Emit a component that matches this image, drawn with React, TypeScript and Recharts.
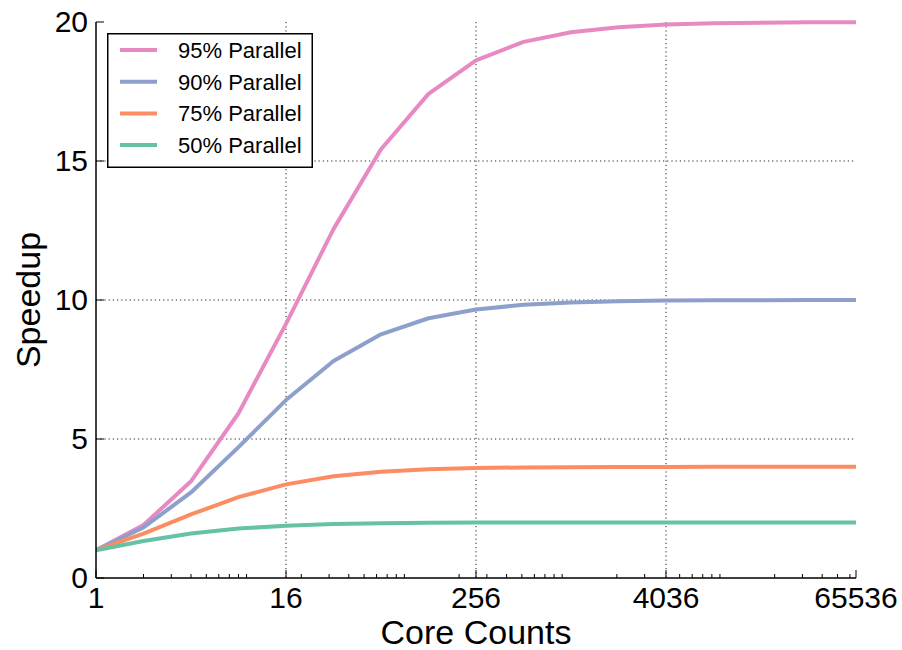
import React from "react";
import { LineChart, Line, XAxis, YAxis, CartesianGrid, Legend } from "recharts";

const coreCounts = [1, 2, 4, 8, 16, 32, 64, 128, 256, 512, 1024, 2048, 4096, 8192, 16384, 32768, 65536];
const parallel95 = [1, 1.905, 3.478, 5.926, 9.143, 12.549, 15.422, 17.415, 18.618, 19.284, 19.633, 19.814, 19.906, 19.953, 19.977, 19.988, 19.994];
const parallel90 = [1, 1.818, 3.077, 4.706, 6.4, 7.805, 8.767, 9.343, 9.66, 9.827, 9.913, 9.956, 9.978, 9.989, 9.995, 9.997, 9.999];
const parallel75 = [1, 1.6, 2.286, 2.909, 3.368, 3.657, 3.821, 3.908, 3.954, 3.977, 3.988, 3.994, 3.997, 3.999, 3.999, 4.0, 4.0];
const parallel50 = [1, 1.333, 1.6, 1.778, 1.882, 1.939, 1.969, 1.984, 1.992, 1.996, 1.998, 1.999, 2.0, 2.0, 2.0, 2.0, 2.0];

const seriesNames = ["95% Parallel", "90% Parallel", "75% Parallel", "50% Parallel"];
const seriesColors = ["#e78ac3", "#8da0cb", "#fc8d62", "#66c2a5"];

const majorXTicks = [1, 16, 256, 4096, 65536];
const majorXTickLabels = ["1", "16", "256", "4036", "65536"];
const minorXTicks = [
  2, 3, 4, 5, 6, 7, 8, 9,
  20, 30, 40, 50, 60, 70, 80, 90,
  200, 300, 400, 500, 600, 700, 800, 900,
  2000, 3000, 5000, 6000, 7000, 8000, 9000,
  20000, 30000, 40000, 50000, 60000,
];
const yTicks = [0, 5, 10, 15, 20];
const gridX = [16, 256, 4096];
const gridY = [5, 10, 15];

const data = coreCounts.map((c, i) => ({
  cores: c,
  p95: parallel95[i],
  p90: parallel90[i],
  p75: parallel75[i],
  p50: parallel50[i],
}));
const seriesKeys = ["p95", "p90", "p75", "p50"];

const FONT = "'Liberation Sans', Arial, Helvetica, sans-serif";
const allXTicks = [...majorXTicks, ...minorXTicks].sort((a, b) => a - b);

const BottomTick = (props: any) => {
  const { x, y, payload } = props;
  const idx = majorXTicks.indexOf(payload.value);
  const major = idx >= 0;
  return (
    <g>
      <line x1={x} y1={y} x2={x} y2={y - (major ? 8 : 4)} stroke="#000" strokeWidth={1} />
      {major && (
        <text x={x} y={y + 30} textAnchor="middle" fontSize={30} fontFamily={FONT} fill="#000">
          {majorXTickLabels[idx]}
        </text>
      )}
    </g>
  );
};

const TopTick = (props: any) => {
  const { x, y, payload } = props;
  const major = majorXTicks.indexOf(payload.value) >= 0;
  return <line x1={x} y1={y} x2={x} y2={y + (major ? 8 : 4)} stroke="#000" strokeWidth={1} />;
};

const LeftTick = (props: any) => {
  const { x, y, payload } = props;
  return (
    <g>
      <line x1={x} y1={y} x2={x + 8} y2={y} stroke="#000" strokeWidth={1} />
      <text x={x - 8} y={y + 10} textAnchor="end" fontSize={30} fontFamily={FONT} fill="#000">
        {payload.value}
      </text>
    </g>
  );
};

const RightTick = (props: any) => {
  const { x, y } = props;
  return <line x1={x} y1={y} x2={x - 8} y2={y} stroke="#000" strokeWidth={1} />;
};

const LegendBox = (props: any) => {
  const payload = [...(props.payload || [])].sort(
    (a: any, b: any) => seriesNames.indexOf(a.value) - seriesNames.indexOf(b.value)
  );
  return (
    <svg width={206} height={135} style={{ display: "block" }}>
      <rect x={0.75} y={0.75} width={204.5} height={133.5} fill="#fff" stroke="#000" strokeWidth={1.5} />
      {payload.map((p: any, i: number) => {
        const cy = 17 + i * 31.7;
        return (
          <g key={i}>
            <line x1={13} y1={cy} x2={50} y2={cy} stroke={p.color} strokeWidth={4} />
            <text x={71} y={cy + 8} fontSize={22} fontFamily={FONT} fill="#000">
              {p.value}
            </text>
          </g>
        );
      })}
    </svg>
  );
};

const XLabel = (props: any) => {
  const vb = props.viewBox || { x: 0, y: 0, width: 0, height: 0 };
  return (
    <text x={vb.x + vb.width / 2} y={vb.y + 66} textAnchor="middle" fontSize={34} fontFamily={FONT} fill="#000">
      Core Counts
    </text>
  );
};

const YLabel = (props: any) => {
  const vb = props.viewBox || { x: 0, y: 0, width: 0, height: 0 };
  const cx = vb.x + vb.width - 56;
  const cy = vb.y + vb.height / 2;
  return (
    <text
      x={cx}
      y={cy}
      transform={`rotate(-90, ${cx}, ${cy})`}
      textAnchor="middle"
      fontSize={34}
      fontFamily={FONT}
      fill="#000"
    >
      Speedup
    </text>
  );
};

export default function App() {
  return (
    <div style={{ width: 902, height: 650, background: "#fff" }}>
      <style>{"html, body { margin: 0; padding: 0; background: #fff; }"}</style>
      <LineChart
        width={902}
        height={650}
        data={data}
        margin={{ top: 22, right: 46, bottom: 14, left: 36 }}
      >
        <CartesianGrid
          stroke="#222"
          strokeWidth={1}
          strokeDasharray="1.2 3"
          verticalValues={gridX}
          horizontalValues={gridY}
        />
        <XAxis
          dataKey="cores"
          type="number"
          scale="log"
          domain={[1, 65536]}
          allowDataOverflow
          ticks={allXTicks}
          interval={0}
          tick={BottomTick}
          tickLine={false}
          tickSize={0}
          tickMargin={0}
          height={58}
          axisLine={{ stroke: "#000", strokeWidth: 1.5 }}
          label={XLabel}
        />
        <XAxis
          xAxisId="top"
          orientation="top"
          dataKey="cores"
          type="number"
          scale="log"
          domain={[1, 65536]}
          allowDataOverflow
          ticks={allXTicks}
          interval={0}
          tick={TopTick}
          tickLine={false}
          tickSize={0}
          tickMargin={0}
          height={0}
          axisLine={{ stroke: "#000", strokeWidth: 1.5 }}
        />
        <YAxis
          type="number"
          domain={[0, 20]}
          ticks={yTicks}
          interval={0}
          tick={LeftTick}
          tickLine={false}
          tickSize={0}
          tickMargin={0}
          width={60}
          axisLine={{ stroke: "#000", strokeWidth: 1.5 }}
          label={YLabel}
        />
        <YAxis
          yAxisId="right"
          orientation="right"
          type="number"
          domain={[0, 20]}
          ticks={yTicks}
          interval={0}
          tick={RightTick}
          tickLine={false}
          tickSize={0}
          tickMargin={0}
          width={0}
          axisLine={{ stroke: "#000", strokeWidth: 1.5 }}
        />
        {seriesKeys.map((k, i) => (
          <Line
            key={k}
            dataKey={k}
            name={seriesNames[i]}
            type="linear"
            stroke={seriesColors[i]}
            strokeWidth={4}
            strokeLinejoin="round"
            dot={false}
            activeDot={false}
            isAnimationActive={false}
          />
        ))}
        <Legend
          layout="vertical"
          align="center"
          verticalAlign="middle"
          content={LegendBox}
          wrapperStyle={{ position: "absolute", top: 33, left: 107, width: 206, height: 135 }}
        />
      </LineChart>
    </div>
  );
}
